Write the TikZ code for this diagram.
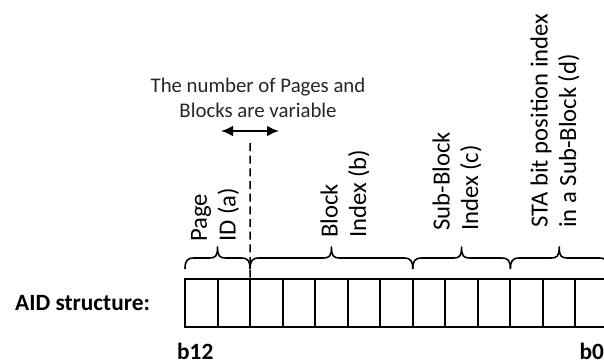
\documentclass[tikz,border=0pt]{standalone}
\usepackage{fontspec}
\setmainfont{Carlito}
\usepackage{tikz}
\usetikzlibrary{arrows.meta, positioning}
\definecolor{cInk}{RGB}{38,38,38}
\tikzset{
	cell/.style    ={rectangle, draw=black, line width=1.5pt, minimum width=24.4pt, minimum height=36pt, inner sep=0pt, outer sep=0pt},
	brc/.style     ={line width=1.2pt, line join=round},
	fieldlbl/.style={rotate=90, anchor=west, align=left, inner sep=0pt, font=\fontsize{18.5}{21.5}\selectfont},
	bitno/.style   ={inner sep=0pt, font=\bfseries\fontsize{17.5}{20}\selectfont},
	varline/.style ={line width=1.1pt, dash pattern=on 6pt off 3.5pt},
	vararrow/.style={{Latex[length=9pt,width=8pt]}-{Latex[length=9pt,width=8pt]}, line width=1.5pt},
}
% curly brace over one field: left x, right x, base y
\newcommand{\fieldbrace}[3]{%
	\pgfmathsetmacro{\brmid}{(#1+#2)/2}
	\draw[brc] (#1,#3) .. controls (#1,#3-8) and (#1+2,#3-11) .. (#1+9,#3-11) -- (\brmid-8,#3-11)
		.. controls (\brmid-2,#3-11) and (\brmid,#3-13) .. (\brmid,#3-22)
		.. controls (\brmid,#3-13) and (\brmid+2,#3-11) .. (\brmid+8,#3-11) -- (#2-9,#3-11)
		.. controls (#2-2,#3-11) and (#2,#3-8) .. (#2,#3);
}

\begin{document}
\begin{tikzpicture}[x=0.75pt, y=-0.75pt]
	\useasboundingbox (0,0) rectangle (604,364);
	% 13 bits, b12 on the left
	\foreach \i in {12,...,0}
		\node[cell] (c\i) at ({201.27+(12-\i)*32.54}, 303) {};
	\node[bitno, left=26pt of c12] (aid) {AID structure:};
	\node[bitno, below=12pt of c12, xshift=-4.5pt] (b12) {b12};
	\node[bitno, below=12pt of c0] (b0) {b0};
	% fields
	\fieldbrace{185}{250.08}{269}
	\fieldbrace{250.08}{412.78}{269}
	\fieldbrace{412.78}{510.4}{269}
	\fieldbrace{510.4}{608}{269}
	\node[fieldlbl] (fa) at (215,242) {Page\\ID (a)};
	\node[fieldlbl] (fb) at (345,238) {Block\\Index (b)};
	\node[fieldlbl] (fc) at (457,231) {Sub-Block\\Index (c)};
	\node[fieldlbl] (fd) at (555,228) {STA bit position index\\in a Sub-Block (d)};
	% movable page/block boundary
	\coordinate (vtop) at (250.08,143);
	\draw[varline] (vtop) -- (c11.north east);
	\coordinate (vl) at (221,131);
	\coordinate (vr) at (279,131);
	\draw[vararrow] (vl) -- (vr);
	\node[align=center, text=cInk, font=\fontsize{15.6}{18.75}\selectfont] (note) at (258,98) {The number of Pages and\\Blocks are variable};
\end{tikzpicture}
\end{document}
